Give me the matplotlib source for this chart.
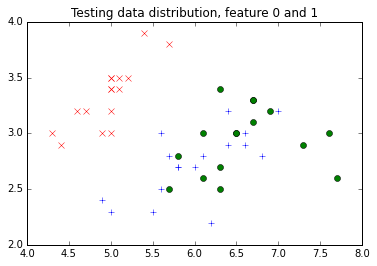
import matplotlib
matplotlib.use('Agg')
import matplotlib.pyplot as plt

plt.style.use('classic')
plt.rcParams['font.size'] = 10

# class 0 (red x)
x0 = [4.3, 4.4, 4.6, 4.7, 4.9, 5.0, 5.0, 5.0, 5.0, 5.0, 5.0, 5.1, 5.1, 5.2, 5.4, 5.7]
y0 = [3.0, 2.9, 3.2, 3.2, 3.0, 3.0, 3.2, 3.4, 3.4, 3.5, 3.5, 3.5, 3.4, 3.5, 3.9, 3.8]
# class 1 (blue +)
x1 = [4.9, 5.0, 5.5, 5.6, 5.6, 5.7, 5.8, 5.8, 6.0, 6.1, 6.2, 6.4, 6.4, 6.6, 6.6, 6.8, 7.0]
y1 = [2.4, 2.3, 2.3, 2.5, 3.0, 2.8, 2.7, 2.7, 2.7, 2.8, 2.2, 3.2, 2.9, 3.0, 2.9, 2.8, 3.2]
# class 2 (green o)
x2 = [5.7, 5.8, 6.1, 6.1, 6.3, 6.3, 6.3, 6.5, 6.5, 6.7, 6.7, 6.7, 6.9, 7.3, 7.6, 7.7]
y2 = [2.5, 2.8, 3.0, 2.6, 3.4, 2.7, 2.5, 3.0, 3.0, 3.3, 3.3, 3.1, 3.2, 2.9, 3.0, 2.6]

fig = plt.figure(figsize=(377 / 72, 266 / 72), dpi=72)
ax = fig.add_axes([27 / 377, 21 / 266, 335 / 377, 223 / 266])

ax.plot(x0, y0, 'rx')
ax.plot(x1, y1, 'b+')
ax.plot(x2, y2, 'go')

ax.set_xlim(4.0, 8.0)
ax.set_ylim(2.0, 4.0)
ax.set_title('Testing data distribution, feature 0 and 1')

fig.savefig('out.png', dpi=72)
